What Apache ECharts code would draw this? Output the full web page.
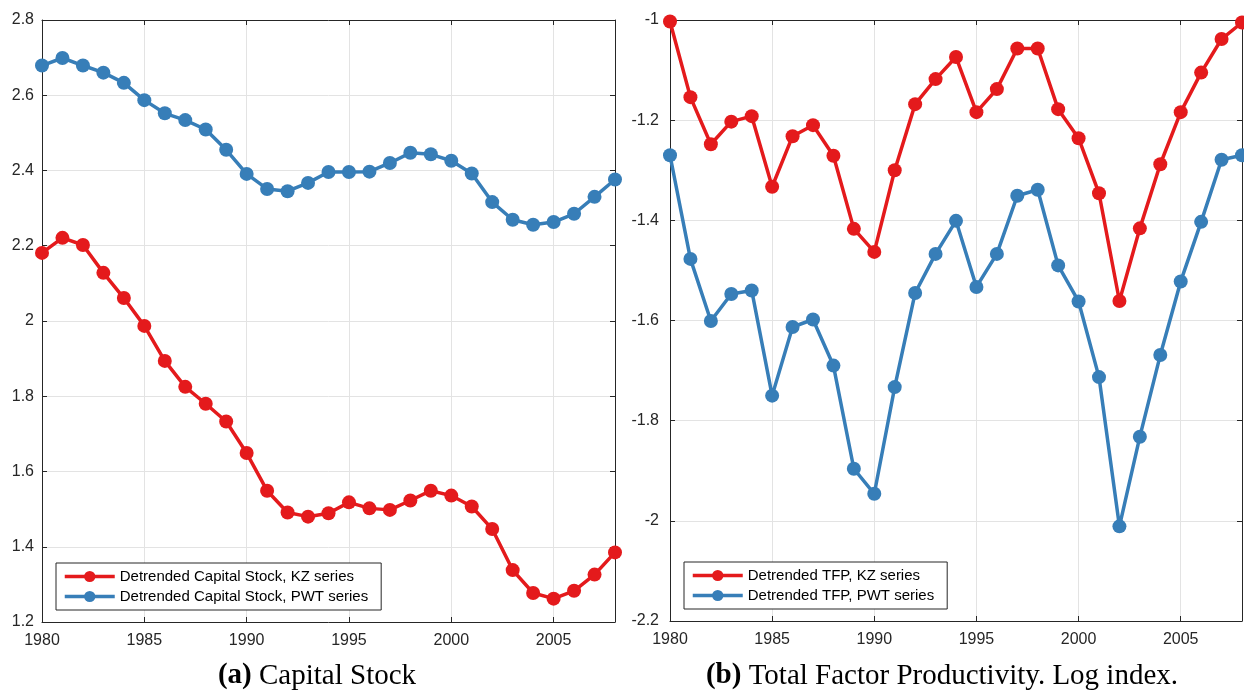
<!DOCTYPE html>
<html>
<head>
<meta charset="utf-8">
<script src="https://cdn.jsdelivr.net/npm/echarts@6/dist/echarts.min.js"></script>
<style>
  html, body { margin: 0; padding: 0; background: #fff; }
  #chart { width: 1244px; height: 690px; }
</style>
</head>
<body>
<div id="chart"></div>
<script>
var years = [1980, 1981, 1982, 1983, 1984, 1985, 1986, 1987, 1988, 1989,
  1990, 1991, 1992, 1993, 1994, 1995, 1996, 1997, 1998, 1999,
  2000, 2001, 2002, 2003, 2004, 2005, 2006, 2007, 2008];

var capitalKZ = [2.181, 2.221, 2.202, 2.128, 2.061, 1.987, 1.894, 1.825, 1.780, 1.733,
  1.649, 1.549, 1.491, 1.480, 1.489, 1.518, 1.502, 1.498, 1.523, 1.549,
  1.536, 1.507, 1.447, 1.338, 1.277, 1.262, 1.283, 1.326, 1.385];

var capitalPWT = [2.679, 2.699, 2.679, 2.660, 2.633, 2.587, 2.552, 2.534, 2.509, 2.455,
  2.391, 2.351, 2.345, 2.367, 2.396, 2.396, 2.397, 2.420, 2.447, 2.443,
  2.426, 2.392, 2.316, 2.269, 2.256, 2.263, 2.285, 2.330, 2.376];

var tfpKZ = [-1.003, -1.154, -1.248, -1.203, -1.192, -1.333, -1.232, -1.210, -1.271, -1.417,
  -1.463, -1.300, -1.168, -1.118, -1.074, -1.184, -1.138, -1.057, -1.057, -1.178,
  -1.236, -1.346, -1.561, -1.416, -1.288, -1.184, -1.105, -1.038, -1.005];

var tfpPWT = [-1.270, -1.477, -1.601, -1.547, -1.540, -1.750, -1.613, -1.598, -1.690, -1.896,
  -1.946, -1.733, -1.545, -1.467, -1.401, -1.533, -1.467, -1.351, -1.339, -1.490,
  -1.562, -1.713, -2.011, -1.832, -1.669, -1.522, -1.403, -1.279, -1.270];

var ink = '#262626';
var gridColor = '#e3e3e3';
var red = '#e41a1c';
var blue = '#377eb8';
var font = '"Liberation Sans", Arial, sans-serif';
var serif = '"Liberation Serif", serif';

function pairs(vals) {
  return years.map(function(y, i) { return [y, vals[i]]; });
}

function xAxes(gridIndex) {
  return [
    {
      type: 'value', gridIndex: gridIndex, min: 1980, max: 2008, interval: 5,
      axisLine: { show: true, lineStyle: { color: ink, width: 1 } },
      axisTick: { show: true, inside: true, length: 5, lineStyle: { color: ink } },
      axisLabel: {
        color: ink, fontSize: 16, fontFamily: font, margin: 11, showMaxLabel: false,
        formatter: function(v) { return String(v); }
      },
      splitLine: { show: true, lineStyle: { color: gridColor } }
    },
    {
      type: 'value', gridIndex: gridIndex, position: 'top', min: 1980, max: 2008, interval: 5,
      axisLine: { show: true, onZero: false, lineStyle: { color: ink, width: 1 } },
      axisTick: { show: true, inside: true, length: 5, lineStyle: { color: ink } },
      axisLabel: { show: false },
      splitLine: { show: false }
    }
  ];
}

function yAxes(gridIndex, min, max, margin) {
  return [
    {
      type: 'value', gridIndex: gridIndex, min: min, max: max, interval: 0.2,
      axisLine: { show: true, onZero: false, lineStyle: { color: ink, width: 1 } },
      axisTick: { show: true, inside: true, length: 5, lineStyle: { color: ink } },
      axisLabel: { color: ink, fontSize: 16, fontFamily: font, margin: margin },
      splitLine: { show: true, lineStyle: { color: gridColor } }
    },
    {
      type: 'value', gridIndex: gridIndex, position: 'right', min: min, max: max, interval: 0.2,
      axisLine: { show: true, onZero: false, lineStyle: { color: ink, width: 1 } },
      axisTick: { show: true, inside: true, length: 5, lineStyle: { color: ink } },
      axisLabel: { show: false },
      splitLine: { show: false }
    }
  ];
}

function lineSeries(name, vals, color, xi, yi) {
  return {
    name: name, type: 'line', xAxisIndex: xi, yAxisIndex: yi,
    data: pairs(vals),
    symbol: 'circle', symbolSize: 14,
    lineStyle: { color: color, width: 3.5 },
    itemStyle: { color: color },
    z: 3
  };
}

function legend(names, left, top) {
  return {
    data: names, orient: 'vertical', left: left, top: top,
    itemWidth: 50, itemHeight: 14, itemGap: 5,
    padding: [6, 13, 6, 7],
    borderColor: ink, borderWidth: 1, backgroundColor: '#fff',
    lineStyle: { width: 3.5 },
    textStyle: { color: '#000', fontSize: 15, fontFamily: font }
  };
}

var chart = echarts.init(document.getElementById('chart'), null, { renderer: 'canvas' });
chart.setOption({
  animation: false,
  backgroundColor: '#fff',
  grid: [
    { left: 42, right: 629, top: 20, bottom: 68 },
    { left: 670, right: 2, top: 20, bottom: 69 }
  ],
  xAxis: xAxes(0).concat(xAxes(1)),
  yAxis: yAxes(0, 1.2, 2.8, 8).concat(yAxes(1, -2.2, -1, 11)),
  legend: [
    legend(['Detrended Capital Stock, KZ series', 'Detrended Capital Stock, PWT series'], 56, 563),
    legend(['Detrended TFP, KZ series', 'Detrended TFP, PWT series'], 684, 562)
  ],
  series: [
    lineSeries('Detrended Capital Stock, PWT series', capitalPWT, blue, 0, 0),
    lineSeries('Detrended Capital Stock, KZ series', capitalKZ, red, 0, 0),
    lineSeries('Detrended TFP, PWT series', tfpPWT, blue, 2, 2),
    lineSeries('Detrended TFP, KZ series', tfpKZ, red, 2, 2)
  ],
  graphic: [
    {
      type: 'text', x: 317, y: 676,
      style: {
        text: '{b|(a)} Capital Stock',
        font: '29px ' + serif,
        fill: '#000', align: 'center', verticalAlign: 'middle',
        rich: { b: { fontWeight: 'bold', fontSize: 29, fontFamily: serif } }
      }
    },
    {
      type: 'text', x: 942, y: 676,
      style: {
        text: '{b|(b)} Total Factor Productivity. Log index.',
        font: '29px ' + serif,
        fill: '#000', align: 'center', verticalAlign: 'middle',
        rich: { b: { fontWeight: 'bold', fontSize: 29, fontFamily: serif } }
      }
    }
  ]
});

window.addEventListener('resize', function() {
  chart.resize();
});
</script>
</body>
</html>
